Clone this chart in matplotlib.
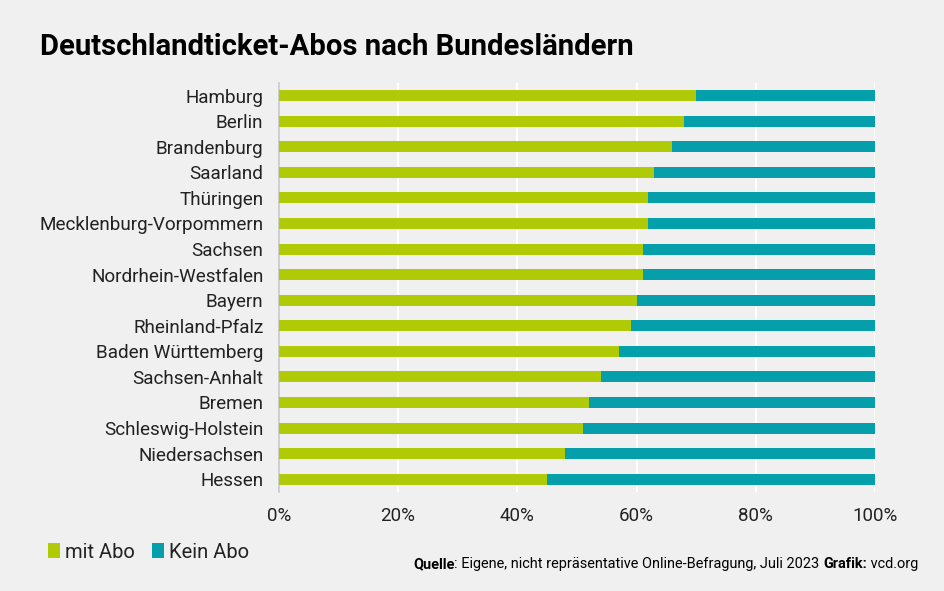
import matplotlib
matplotlib.use("Agg")
import matplotlib.pyplot as plt
from matplotlib.patches import Patch

states = ["Hamburg", "Berlin", "Brandenburg", "Saarland", "Thüringen",
          "Mecklenburg-Vorpommern", "Sachsen", "Nordrhein-Westfalen", "Bayern",
          "Rheinland-Pfalz", "Baden Württemberg", "Sachsen-Anhalt", "Bremen",
          "Schleswig-Holstein", "Niedersachsen", "Hessen"]
mit_abo = [70, 68, 66, 63, 62, 62, 61, 61, 60, 59, 57, 54, 52, 51, 48, 45]
kein_abo = [100 - v for v in mit_abo]
xticks = [0, 20, 40, 60, 80, 100]
xticklabels = ["0%", "20%", "40%", "60%", "80%", "100%"]

green = "#b0cb06"
teal = "#059fab"
bg = "#f0f0f0"

plt.rcParams['font.family'] = ['Roboto', 'DejaVu Sans']

fig = plt.figure(figsize=(9.45, 5.91), dpi=100, facecolor=bg)
ax = fig.add_axes([0.295, 0.1675, 0.631, 0.6925], facecolor=bg)

y = list(range(len(states)))
ax.barh(y, mit_abo, height=0.43, color=green, zorder=3)
ax.barh(y, kein_abo, left=mit_abo, height=0.43, color=teal, zorder=3)

ax.set_ylim(len(states) - 0.5, -0.5)
ax.set_xlim(0, 100)
ax.set_yticks(y)
ax.set_yticklabels(states, fontsize=13.6, color="#222222")
ax.set_xticks(xticks)
ax.set_xticklabels(xticklabels, fontsize=13.5, color="#222222")
ax.tick_params(axis='both', length=0)
ax.tick_params(axis='y', pad=11)
ax.tick_params(axis='x', pad=11)
for s in ["top", "right", "bottom"]:
    ax.spines[s].set_visible(False)
ax.spines["left"].set_color("#c8c8c8")
ax.spines["left"].set_linewidth(1.2)
ax.xaxis.grid(True, color="white", linewidth=1.5, zorder=0)
ax.set_axisbelow(True)

fig.text(40 / 945, 1 - 47 / 591, "Deutschlandticket-Abos nach Bundesländern",
         fontsize=21.1, fontweight="bold", va="center", ha="left", color="black")

handles = [Patch(facecolor=green, label="mit Abo"), Patch(facecolor=teal, label="Kein Abo")]
leg = fig.legend(handles=handles, loc="center left", bbox_to_anchor=(48 / 945, 1 - 552 / 591),
                 ncol=2, frameon=False, fontsize=14.5, handlelength=0.6, handleheight=0.75,
                 handletextpad=0.25, columnspacing=0.85, borderaxespad=0, borderpad=0)
for t in leg.get_texts():
    t.set_color("#222222")

fs = 10.45
t1 = fig.text(413 / 945, 1 - 568 / 591, "Quelle", fontsize=fs, fontweight="bold",
              ha="left", va="baseline", color="black")
t2 = ax.annotate(": Eigene, nicht repräsentative Online-Befragung, Juli 2023 ", xy=(1, 0),
                 xycoords=t1, ha="left", va="bottom", fontsize=fs, color="black",
                 annotation_clip=False)
t3 = ax.annotate("Grafik:", xy=(1, 0), xycoords=t2, ha="left", va="bottom", fontsize=fs,
                 fontweight="bold", color="black", annotation_clip=False)
t4 = ax.annotate(" vcd.org", xy=(1, 0), xycoords=t3, ha="left", va="bottom", fontsize=fs,
                 color="black", annotation_clip=False)

fig.savefig("out.png", dpi=100, facecolor=bg)
